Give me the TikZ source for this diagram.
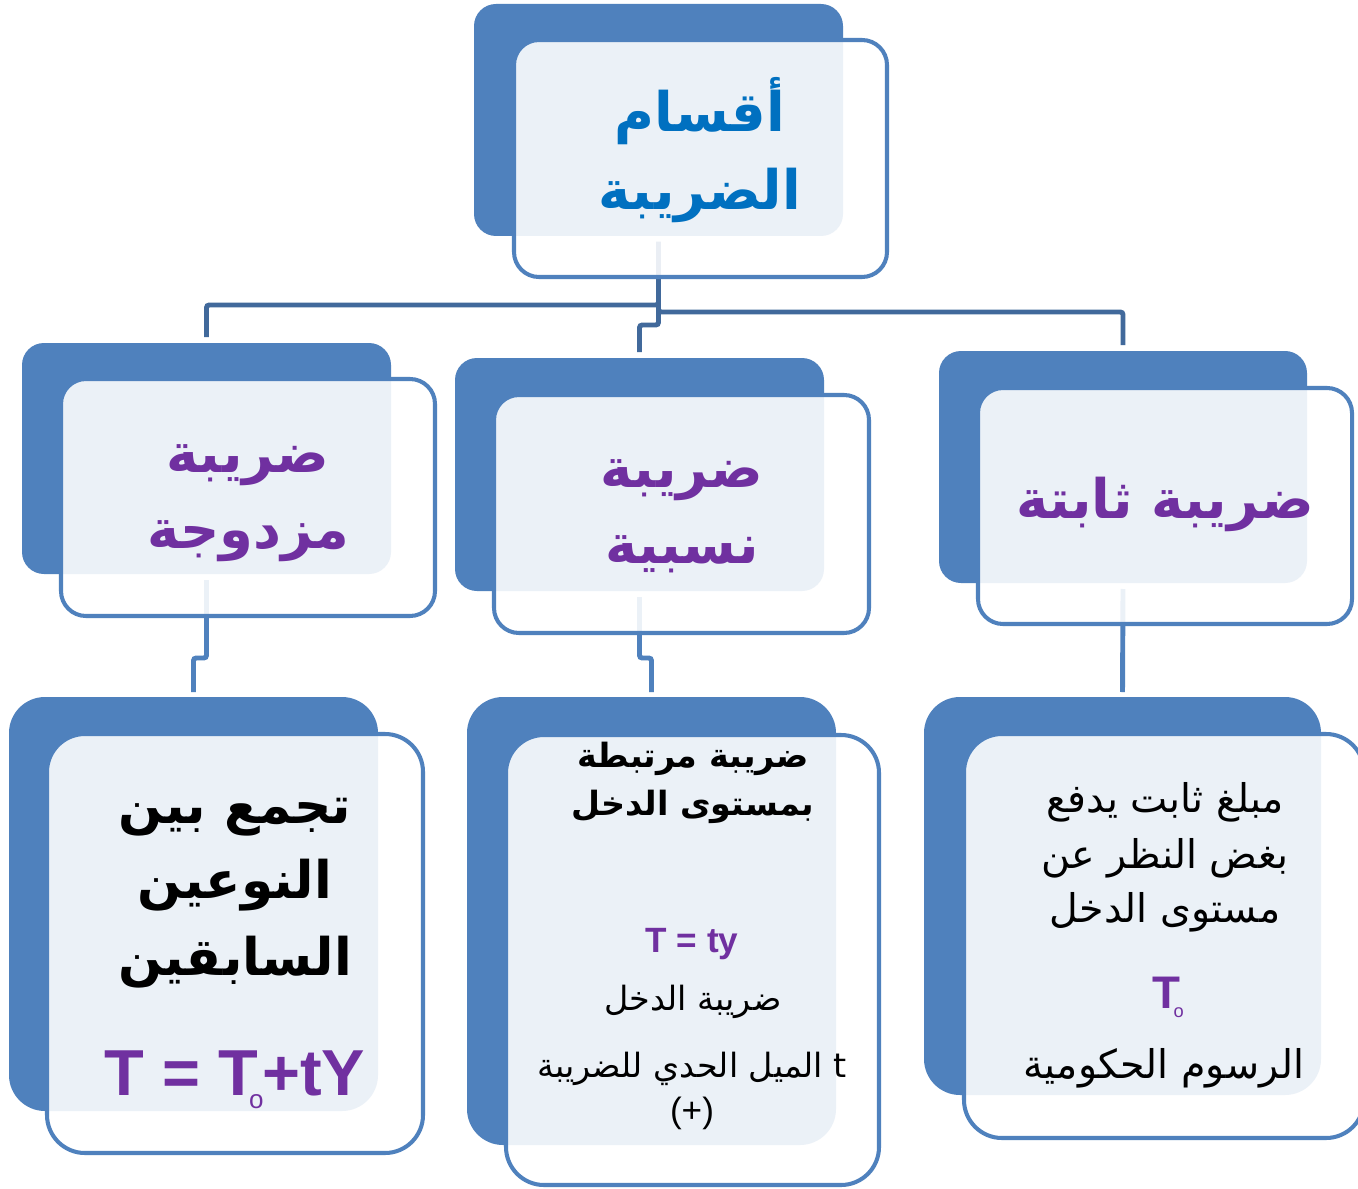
\documentclass[tikz,border=0pt]{standalone}
\usepackage{fontspec}
\setmainfont{Liberation Sans}
\newfontfamily\arabicfont[Script=Arabic]{DejaVu Sans}
\TeXXeTstate=1
\usetikzlibrary{fit,calc}

\definecolor{boxblue}{HTML}{4F81BD}
\definecolor{linkblue}{HTML}{41699B}
\definecolor{headblue}{HTML}{0070C0}
\definecolor{purp}{HTML}{7030A0}

% subscript ring used in T_o
\newcommand{\Tnought}{T\kern-0.14em\raisebox{-0.2em}{\mdseries\fontsize{0.4em}{0.4em}\selectfont o}}

\tikzset{
  backbox/.style={fill=boxblue, draw=none, inner sep=0pt, outer sep=0pt, rounded corners=#1},
  frontbox/.style={fill=white, fill opacity=0.89, draw=boxblue, draw opacity=1,
                   line width=2.3pt, inner sep=0pt, outer sep=0pt, rounded corners=#1},
  topconn/.style={draw=linkblue, line width=2.8pt, rounded corners=1.5pt},
  lowconn/.style={draw=boxblue, line width=2.8pt, rounded corners=1.5pt},
  txt/.style={anchor=base, inner sep=0pt, outer sep=0pt},
  headtxt/.style={txt, text=headblue, font=\arabicfont\bfseries\fontsize{31}{38}\selectfont},
  kindtxt/.style={txt, text=purp, font=\arabicfont\bfseries\fontsize{31}{38}\selectfont},
  bigtxt/.style={txt, text=black, font=\arabicfont\bfseries\fontsize{29.5}{36}\selectfont},
  midhead/.style={txt, text=black, font=\arabicfont\bfseries\fontsize{19}{23}\selectfont},
  plaintxt/.style={txt, text=black, font=\arabicfont\fontsize{19}{23}\selectfont},
  righttxt/.style={txt, text=black, font=\arabicfont\fontsize{22.5}{27}\selectfont},
  formula/.style={txt, text=purp, font=\bfseries\fontsize{#1}{#1}\selectfont},
}

\begin{document}
\begin{tikzpicture}[x=0.02cm, y=-0.02cm]
  \useasboundingbox (0,0) rectangle (1358,1189);
  \fill[white] (0,0) rectangle (1358,1189);

  % invisible anchors for the back panels (used by the connectors)
  \node[inner sep=0pt, outer sep=0pt, fit={(474,4)(843,236)}] (rootB) {};
  \node[inner sep=0pt, outer sep=0pt, fit={(22,343)(391,574)}] (dualB) {};
  \node[inner sep=0pt, outer sep=0pt, fit={(455,358)(824,591)}] (propB) {};
  \node[inner sep=0pt, outer sep=0pt, fit={(939,351)(1307,583)}] (fixB) {};
  \node[inner sep=0pt, outer sep=0pt, fit={(9,697)(378,1111)}] (dualD) {};
  \node[inner sep=0pt, outer sep=0pt, fit={(467,697)(836,1145)}] (propD) {};
  \node[inner sep=0pt, outer sep=0pt, fit={(924,697)(1321,1095)}] (fixD) {};

  % connectors: root to the three kinds
  \draw[topconn] ($(rootB.south)+(0,6)$) |- ($(dualB.north)+(0,-38)$) -- ($(dualB.north)+(0,-6)$);
  \draw[topconn] ($(rootB.south)+(0,6)$) |- ($(propB.north)+(0,-33)$) -- ($(propB.north)+(0,-6)$);
  \draw[topconn] ($(rootB.south)+(0,6)$) |- ($(fixB.north)+(0,-39)$) -- ($(fixB.north)+(0,-6)$);

  % connectors: each kind to its description
  \draw[lowconn] ($(dualB.south)+(0,6)$) |- ($(dualD.north)+(0,-39)$) -- ($(dualD.north)+(0,-5)$);
  \draw[lowconn] ($(propB.south)+(0,6)$) |- ($(propD.north)+(0,-39)$) -- ($(propD.north)+(0,-5)$);
  \draw[lowconn] ($(fixB.south)+(0,6)$) -- ($(fixD.north)+(0,-5)$);

  % back panels
  \fill[backbox=0.44cm] (rootB.south west) rectangle (rootB.north east);
  \fill[backbox=0.44cm] (dualB.south west) rectangle (dualB.north east);
  \fill[backbox=0.44cm] (propB.south west) rectangle (propB.north east);
  \fill[backbox=0.44cm] (fixB.south west) rectangle (fixB.north east);
  \fill[backbox=0.72cm] (dualD.south west) rectangle (dualD.north east);
  \fill[backbox=0.72cm] (propD.south west) rectangle (propD.north east);
  \fill[backbox=0.72cm] (fixD.south west) rectangle (fixD.north east);

  % front panels
  \node[frontbox=0.5cm, fit={(514,40)(887,277)}] (rootF) {};
  \node[frontbox=0.5cm, fit={(61,379)(435,616)}] (dualF) {};
  \node[frontbox=0.5cm, fit={(494,395)(869,633)}] (propF) {};
  \node[frontbox=0.5cm, fit={(978,388)(1352,624)}] (fixF) {};
  \node[frontbox=0.76cm, fit={(47,734)(423,1153)}] (dualE) {};
  \node[frontbox=0.76cm, fit={(506,735)(879,1185)}] (propE) {};
  \node[frontbox=0.76cm, fit={(964,734)(1364,1138)}] (fixE) {};

  % root title
  \node[headtxt] (rootT1) at (700,132) {\beginR أقسام\endR};
  \node[headtxt] (rootT2) at (700,210) {\beginR الضريبة\endR};

  % the three kinds
  \node[kindtxt] (dualT1) at (248,472) {\beginR ضريبة\endR};
  \node[kindtxt] (dualT2) at (248,548) {\beginR مزدوجة\endR};
  \node[kindtxt] (propT1) at (682,487) {\beginR ضريبة\endR};
  \node[kindtxt] (propT2) at (682,563) {\beginR نسبية\endR};
  \node[kindtxt] (fixT1) at (1165,518) {\beginR ضريبة ثابتة\endR};

  % mixed tax
  \node[bigtxt] (dualL1) at (235,823) {\beginR تجمع بين\endR};
  \node[bigtxt] (dualL2) at (235,898) {\beginR النوعين\endR};
  \node[bigtxt] (dualL3) at (235,975) {\beginR السابقين\endR};
  \node[formula=37] (dualEq) at (235,1095) {T = \Tnought\kern-0.02em+tY};

  % proportional tax
  \node[midhead] (propL1) at (693,767) {\beginR ضريبة مرتبطة\endR};
  \node[midhead] (propL2) at (693,815) {\beginR بمستوى الدخل\endR};
  \node[formula=20] (propEq) at (692,952) {T = ty};
  \node[plaintxt] (propL3) at (693,1010) {\beginR ضريبة الدخل\endR};
  \node[plaintxt] (propL4) at (692,1077) {\beginR t الميل الحدي للضريبة\endR};
  \node[txt, font=\fontsize{20}{24}\selectfont] (propL5) at (692,1122) {(+)};

  % fixed tax
  \node[righttxt] (fixL1) at (1165,812) {\beginR مبلغ ثابت يدفع\endR};
  \node[righttxt] (fixL2) at (1165,868) {\beginR بغض النظر عن\endR};
  \node[righttxt] (fixL3) at (1165,922) {\beginR مستوى الدخل\endR};
  \node[formula=26] (fixEq) at (1168,1008) {\Tnought};
  \node[righttxt] (fixL4) at (1164,1078) {\beginR الرسوم الحكومية\endR};
\end{tikzpicture}
\end{document}
